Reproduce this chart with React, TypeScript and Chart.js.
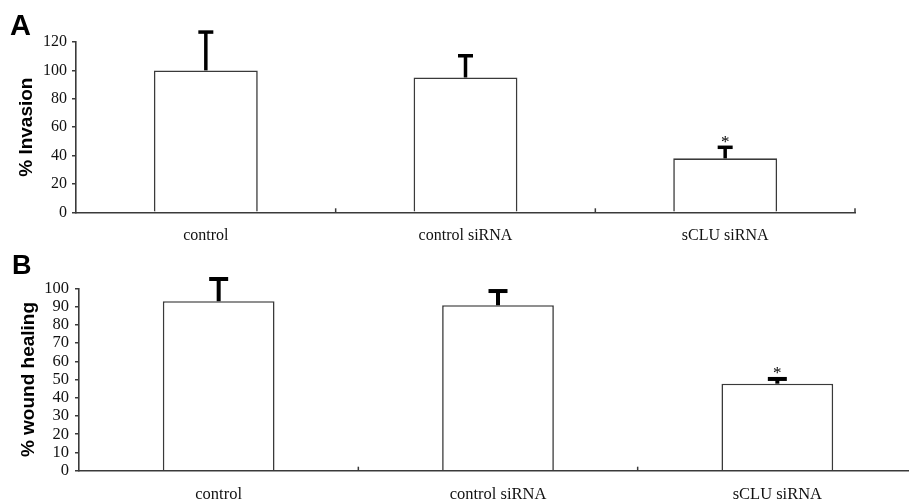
import React, { useEffect, useRef } from 'react';
import { Chart, registerables } from 'chart.js';

Chart.register(...registerables);

// ---- data ----
const categories = ['control', 'control siRNA', 'sCLU siRNA'];
const invasionMeans = [100, 95, 38];
const invasionErrors = [27, 15.3, 7.8];
const woundMeans = [92.9, 90.7, 47.7];
const woundErrors = [12.2, 7.8, 2.6];
const significance = ['', '', '*'];
const invasionAxis = { max: 120, step: 20 };
const woundAxis = { max: 100, step: 10 };

const SERIF = '"Liberation Serif", "Times New Roman", serif';
const SANS = '"Liberation Sans", Arial, sans-serif';
const AXIS_COLOR = '#3a3a3a';

const errorBarPlugin = {
  id: 'errorBars',
  afterDatasetsDraw(chart: any, _args: any, opts: any) {
    const { ctx } = chart;
    const meta = chart.getDatasetMeta(0);
    const yScale = chart.scales.y;
    const values = chart.data.datasets[0].data as number[];
    meta.data.forEach((bar: any, i: number) => {
      const x = bar.x;
      const yBase = yScale.getPixelForValue(values[i]);
      const yTop = yScale.getPixelForValue(values[i] + opts.errors[i]);
      ctx.save();
      ctx.strokeStyle = '#000';
      ctx.lineWidth = opts.lineWidth;
      ctx.beginPath();
      ctx.moveTo(x, yBase);
      ctx.lineTo(x, yTop);
      ctx.stroke();
      ctx.beginPath();
      ctx.moveTo(x - opts.capWidth / 2, yTop);
      ctx.lineTo(x + opts.capWidth / 2, yTop);
      ctx.stroke();
      const mark = opts.marks[i];
      if (mark) {
        ctx.fillStyle = '#000';
        ctx.font = `${opts.markSize}px ${SERIF}`;
        ctx.textAlign = 'center';
        ctx.textBaseline = 'alphabetic';
        ctx.fillText(mark, x, yTop + 1 - opts.lineWidth / 2);
      }
      ctx.restore();
    });
  },
};

const boundaryTickPlugin = {
  id: 'boundaryTicks',
  afterDraw(chart: any, _args: any, opts: any) {
    const { ctx } = chart;
    const xs = chart.scales.x;
    const n = chart.data.labels.length;
    const half = (xs.getPixelForValue(1) - xs.getPixelForValue(0)) / 2;
    ctx.save();
    ctx.strokeStyle = AXIS_COLOR;
    ctx.lineWidth = 1.5;
    for (let i = 0; i < n; i++) {
      const x = xs.getPixelForValue(i) + half;
      ctx.beginPath();
      ctx.moveTo(x, xs.top);
      ctx.lineTo(x, xs.top - opts.length);
      ctx.stroke();
    }
    ctx.restore();
  },
};

type PanelProps = {
  top: number;
  width: number;
  height: number;
  means: number[];
  errors: number[];
  axis: { max: number; step: number };
  title: string;
  padTop: number;
  padRight: number;
  yWidth: number;
  xHeight: number;
  titlePad: number;
  tickFont: number;
  tickPad: number;
  labelFont: number;
  labelPad: number;
  errWidth: number;
  capWidth: number;
};

function Panel(p: PanelProps) {
  const ref = useRef<HTMLCanvasElement>(null);
  useEffect(() => {
    const chart = new Chart(ref.current as HTMLCanvasElement, {
      type: 'bar',
      data: {
        labels: categories,
        datasets: [
          {
            data: p.means,
            backgroundColor: '#ffffff',
            borderColor: AXIS_COLOR,
            borderWidth: 1.6,
            barPercentage: 0.4,
            categoryPercentage: 1,
          },
        ],
      },
      plugins: [errorBarPlugin, boundaryTickPlugin],
      options: {
        responsive: false,
        animation: false,
        layout: { padding: { left: 0, top: p.padTop, right: p.padRight, bottom: 0 } },
        plugins: {
          legend: { display: false },
          tooltip: { enabled: false },
          errorBars: {
            errors: p.errors,
            marks: significance,
            lineWidth: p.errWidth,
            capWidth: p.capWidth,
            markSize: 17,
          },
          boundaryTicks: { length: 4 },
        } as any,
        scales: {
          x: {
            afterFit: (s: any) => {
              s.height = p.xHeight;
            },
            grid: { display: false, drawTicks: false },
            border: { display: true, color: AXIS_COLOR, width: 1.6 },
            ticks: {
              padding: p.labelPad,
              color: '#111',
              font: { family: SERIF, size: p.labelFont },
              maxRotation: 0,
              autoSkip: false,
            },
          },
          y: {
            min: 0,
            max: p.axis.max,
            afterFit: (s: any) => {
              s.width = p.yWidth;
            },
            ticks: {
              stepSize: p.axis.step,
              autoSkip: false,
              padding: p.tickPad,
              color: '#111',
              font: { family: SERIF, size: p.tickFont, lineHeight: 1 },
            },
            grid: {
              display: true,
              drawOnChartArea: false,
              drawTicks: true,
              tickLength: 4,
              color: AXIS_COLOR,
              lineWidth: 1.5,
            },
            border: { display: true, color: AXIS_COLOR, width: 1.6 },
            title: {
              display: true,
              text: p.title,
              color: '#000',
              font: { family: SANS, weight: 'bold', size: 19 },
              padding: { top: p.titlePad, bottom: 0 },
            },
          },
        },
      } as any,
    });
    return () => chart.destroy();
  }, []);
  return (
    <div style={{ position: 'absolute', left: 0, top: p.top, width: p.width, height: p.height }}>
      <canvas
        ref={ref}
        width={p.width}
        height={p.height}
        style={{ width: p.width, height: p.height, display: 'block' }}
      />
    </div>
  );
}

export default function App() {
  return (
    <div
      style={{
        position: 'absolute',
        left: 0,
        top: 0,
        width: 909,
        height: 503,
        overflow: 'hidden',
        background: '#fff',
      }}
    >
      <Panel
        top={0}
        width={909}
        height={245}
        means={invasionMeans}
        errors={invasionErrors}
        axis={invasionAxis}
        title="% Invasion"
        padTop={42}
        padRight={54}
        yWidth={76}
        xHeight={32.7}
        titlePad={15}
        tickFont={16}
        tickPad={5}
        labelFont={16}
        labelPad={14}
        errWidth={3.5}
        capWidth={15}
      />
      <Panel
        top={245}
        width={940}
        height={258}
        means={woundMeans}
        errors={woundErrors}
        axis={woundAxis}
        title="% wound healing"
        padTop={43.3}
        padRight={23}
        yWidth={79}
        xHeight={32.3}
        titlePad={17}
        tickFont={16.5}
        tickPad={6}
        labelFont={16.5}
        labelPad={14.4}
        errWidth={4}
        capWidth={19}
      />
      <div
        style={{
          position: 'absolute',
          left: 10,
          top: 11.3,
          fontFamily: SANS,
          fontWeight: 'bold',
          fontSize: 29,
          lineHeight: 1,
          color: '#000',
        }}
      >
        A
      </div>
      <div
        style={{
          position: 'absolute',
          left: 12,
          top: 251.6,
          fontFamily: SANS,
          fontWeight: 'bold',
          fontSize: 27,
          lineHeight: 1,
          color: '#000',
        }}
      >
        B
      </div>
    </div>
  );
}
